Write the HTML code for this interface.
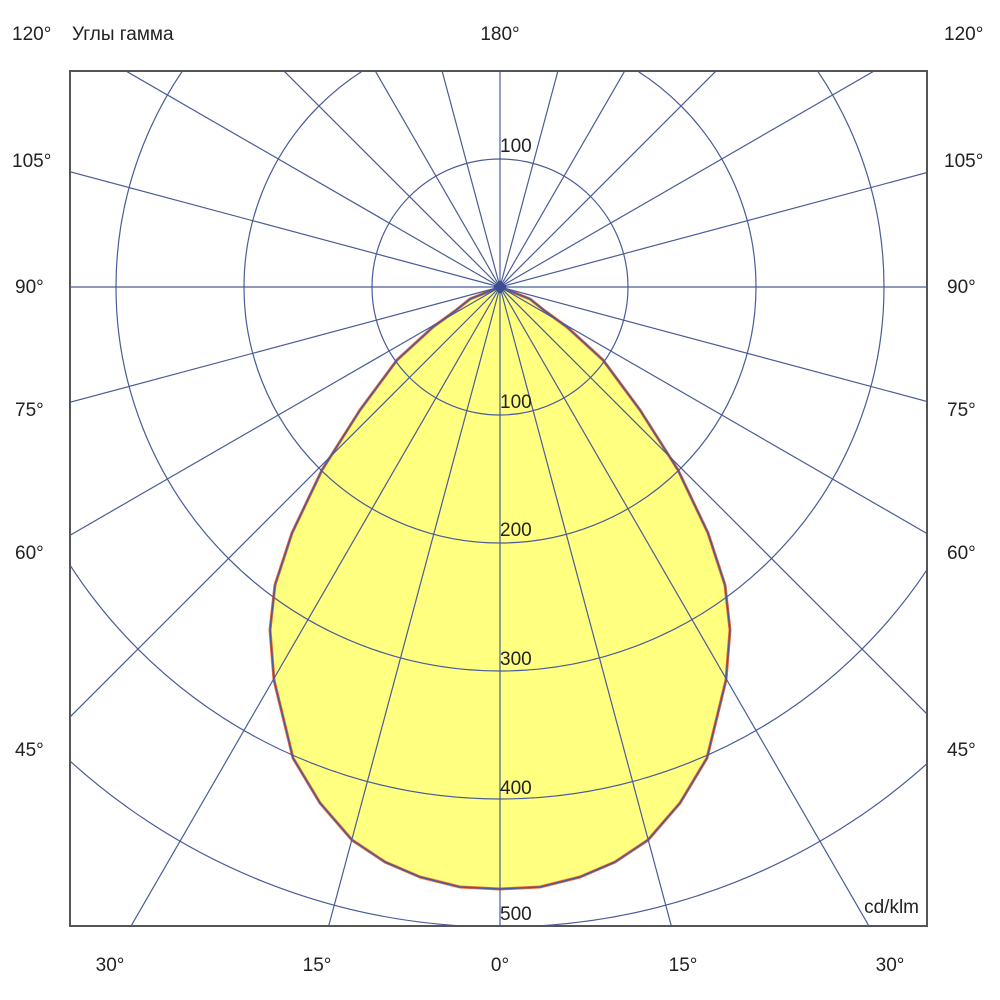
<!DOCTYPE html>
<html><head><meta charset="utf-8"><style>
html,body{margin:0;padding:0;background:#fff;width:1000px;height:1000px;overflow:hidden;}
svg{display:block;}
text{font-family:"Liberation Sans",Arial,sans-serif;font-size:19px;fill:#222;}
</style></head><body>
<svg width="1000" height="1000" viewBox="0 0 1000 1000" xmlns="http://www.w3.org/2000/svg">
<defs><clipPath id="c"><rect x="70" y="71" width="857" height="855"/></clipPath></defs>
<rect width="1000" height="1000" fill="#fff"/>
<g clip-path="url(#c)">
<path d="M500,287 L470,299 L455,311 L433,327 L397,360 L360,410 L322,470 L292,533 L275,585 L270,630 L274,680 L293,758 L320,803 L352,840 L385,862 L420,877 L460,887 L500,889 L540,887 L580,877 L615,862 L648,840 L680,803 L707,758 L726,680 L730,630 L725,585 L708,533 L678,470 L640,410 L603,360 L567,327 L545,311 L530,299 Z" fill="#ffff80" stroke="#f06a30" stroke-width="3" stroke-linejoin="round"/>
<path d="M500,287 L470,299 L455,311 L433,327 L397,360 L360,410 L322,470 L292,533 L275,585 L270,630 L274,680 L293,758 L320,803 L352,840 L385,862 L420,877 L460,887 L500,889 L540,887 L580,877 L615,862 L648,840 L680,803 L707,758 L726,680 L730,630 L725,585 L708,533 L678,470 L640,410 L603,360 L567,327 L545,311 L530,299 Z" fill="none" stroke="#4a5a9a" stroke-width="1.5" stroke-linejoin="round"/>
<g fill="none" stroke="#4a5c98" stroke-width="1.2">
<circle cx="500" cy="287" r="128"/>
<circle cx="500" cy="287" r="256"/>
<circle cx="500" cy="287" r="384"/>
<circle cx="500" cy="287" r="512"/>
<circle cx="500" cy="287" r="640"/>
<line x1="500" y1="287" x2="500" y2="1287"/>
<line x1="500" y1="287" x2="500" y2="-713"/>
<line x1="500" y1="287" x2="1500" y2="287"/>
<line x1="500" y1="287" x2="-500" y2="287"/>
<line x1="500" y1="287" x2="759" y2="1253"/>
<line x1="500" y1="287" x2="241" y2="1253"/>
<line x1="500" y1="287" x2="759" y2="-679"/>
<line x1="500" y1="287" x2="241" y2="-679"/>
<line x1="500" y1="287" x2="1000" y2="1153"/>
<line x1="500" y1="287" x2="0" y2="1153"/>
<line x1="500" y1="287" x2="1000" y2="-579"/>
<line x1="500" y1="287" x2="0" y2="-579"/>
<line x1="500" y1="287" x2="1207" y2="994"/>
<line x1="500" y1="287" x2="-207" y2="994"/>
<line x1="500" y1="287" x2="1207" y2="-420"/>
<line x1="500" y1="287" x2="-207" y2="-420"/>
<line x1="500" y1="287" x2="1366" y2="787"/>
<line x1="500" y1="287" x2="-366" y2="787"/>
<line x1="500" y1="287" x2="1366" y2="-213"/>
<line x1="500" y1="287" x2="-366" y2="-213"/>
<line x1="500" y1="287" x2="1466" y2="546"/>
<line x1="500" y1="287" x2="-466" y2="546"/>
<line x1="500" y1="287" x2="1466" y2="28"/>
<line x1="500" y1="287" x2="-466" y2="28"/>
</g>
<polygon points="500,280 507,287 500,294 493,287" fill="#3a4f90"/>
</g>
<rect x="70" y="71" width="857" height="855" fill="none" stroke="#555" stroke-width="2"/>
<text x="12" y="40">120°</text>
<text x="72" y="40">Углы гамма</text>
<text x="500" y="40" text-anchor="middle">180°</text>
<text x="944" y="40">120°</text>
<text x="12" y="167">105°</text><text x="944" y="167">105°</text>
<text x="15" y="293">90°</text><text x="947" y="293">90°</text>
<text x="15" y="416">75°</text><text x="947" y="416">75°</text>
<text x="15" y="559">60°</text><text x="947" y="559">60°</text>
<text x="15" y="756">45°</text><text x="947" y="756">45°</text>
<text x="110" y="971" text-anchor="middle">30°</text>
<text x="317" y="971" text-anchor="middle">15°</text>
<text x="500" y="971" text-anchor="middle">0°</text>
<text x="683" y="971" text-anchor="middle">15°</text>
<text x="890" y="971" text-anchor="middle">30°</text>
<text x="500" y="152">100</text>
<text x="500" y="408">100</text>
<text x="500" y="536">200</text>
<text x="500" y="665">300</text>
<text x="500" y="794">400</text>
<text x="500" y="920">500</text>
<text x="919" y="913" text-anchor="end">cd/klm</text>
</svg>
</body></html>
